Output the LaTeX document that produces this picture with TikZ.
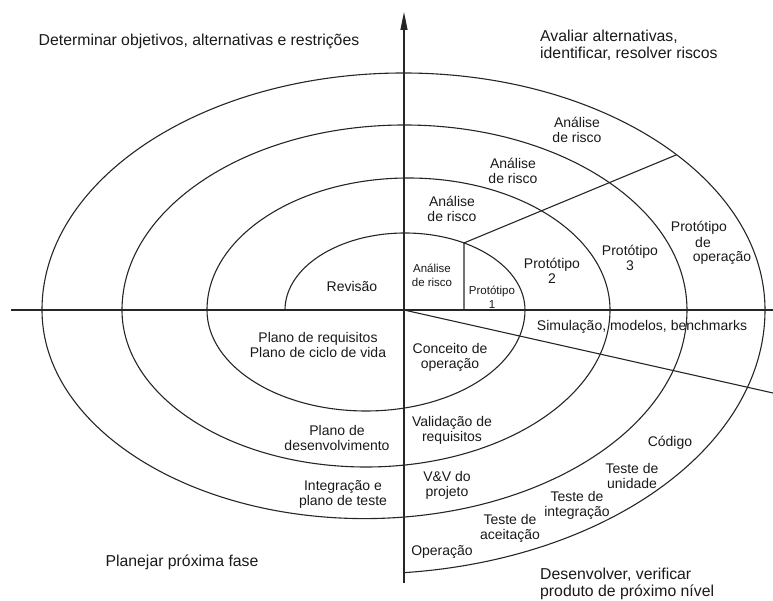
\documentclass[tikz,border=0pt]{standalone}
\usepackage{fontspec}
\setmainfont{Liberation Sans}
\usetikzlibrary{arrows.meta}
\tikzset{
  big/.style={font=\fontsize{15.8}{17}\selectfont, inner sep=0pt, text=black!90},
  mid/.style={font=\fontsize{14}{15}\selectfont, inner sep=0pt, align=center, text=black!90},
  small/.style={font=\fontsize{11.5}{14}\selectfont, inner sep=0pt, align=center, text=black!90},
  ln/.style={line width=1.1pt, draw=black!85},
}
\begin{document}
\begin{tikzpicture}[x=1pt,y=1pt]
\useasboundingbox (-404,-291) rectangle (369,310);
% axes
\coordinate (O) at (0,0);
\coordinate (hl) at (-393,0);
\coordinate (hr) at (369,0);
\coordinate (vb) at (0,-273);
\coordinate (vt) at (0,298);
\draw[ln] (hl) -- (hr);
\draw[ln, -{Triangle[length=18pt,width=7pt]}] (vb) -- (vt);
% spiral
\draw[ln] (-119,0)
  arc[start angle=180, end angle=0, x radius=120, y radius=77]
  arc[start angle=0, end angle=-180, x radius=159, y radius=101]
  arc[start angle=180, end angle=0, x radius=201.5, y radius=132]
  arc[start angle=0, end angle=-180, x radius=244, y radius=157]
  arc[start angle=180, end angle=0, x radius=282.5, y radius=185]
  arc[start angle=0, end angle=-180, x radius=322.5, y radius=208.6]
  arc[start angle=180, end angle=0, x radius=361.5, y radius=237]
  arc[start angle=0, end angle=-84.27, x radius=401, y radius=264];
% risk analysis dividers
\coordinate (p1b) at (60,0);
\coordinate (p1t) at (60,67.05);
\coordinate (dend) at (272.5,155.2);
\coordinate (send) at (369,-83);
\draw[ln] (p1b) -- (p1t) -- (dend);
\draw[ln] (O) -- (send);
% quadrant titles
\node[big] (t1) at (-205,269) {Determinar objetivos, alternativas e restrições};
\node[big, anchor=west, align=left] (t2) at (136,265) {Avaliar alternativas,\\identificar, resolver riscos};
\node[big, anchor=west, align=left] (t3) at (136,-274) {Desenvolver, verificar\\produto de próximo nível};
\node[big] (t4) at (-222,-252) {Planejar próxima fase};
% upper right
\node[mid] (ar4) at (173,180) {Análise\\de risco};
\node[mid] (ar3) at (109,139) {Análise\\de risco};
\node[mid] (ar2) at (48,101) {Análise\\de risco};
\node[small] (ar1) at (28,35) {Análise\\de risco};
\node[small] (pr1) at (88,13) {Protótipo\\1};
\node[mid] (pr2) at (148,39) {Protótipo\\2};
\node[mid] (pr3) at (226,52) {Protótipo\\3};
\node[mid] (pra) at (295,82) {Protótipo};
\node[mid] (prb) at (299,67) {de};
\node[mid] (prc) at (318,52) {operação};
% upper left
\node[mid] (rev) at (-52,23) {Revisão};
% lower left
\node[mid] (plr) at (-86,-35) {Plano de requisitos\\Plano de ciclo de vida};
\node[mid] (pld) at (-67,-128) {Plano de\\desenvolvimento};
\node[mid] (ipt) at (-61,-184) {Integração e\\plano de teste};
% lower right
\node[mid] (cop) at (46,-47) {Conceito de\\operação};
\node[mid] (sim) at (238,-17) {Simulação, modelos, benchmarks};
\node[mid] (vre) at (48,-120) {Validação de\\requisitos};
\node[mid] (vvp) at (43,-175) {V\&V do\\projeto};
\node[mid] (cod) at (266,-133) {Código};
\node[mid] (tun) at (228,-166) {Teste de\\unidade};
\node[mid] (tin) at (173,-195) {Teste de\\integração};
\node[mid] (tac) at (106,-218) {Teste de\\aceitação};
\node[mid] (ope) at (38,-242) {Operação};
\end{tikzpicture}
\end{document}
